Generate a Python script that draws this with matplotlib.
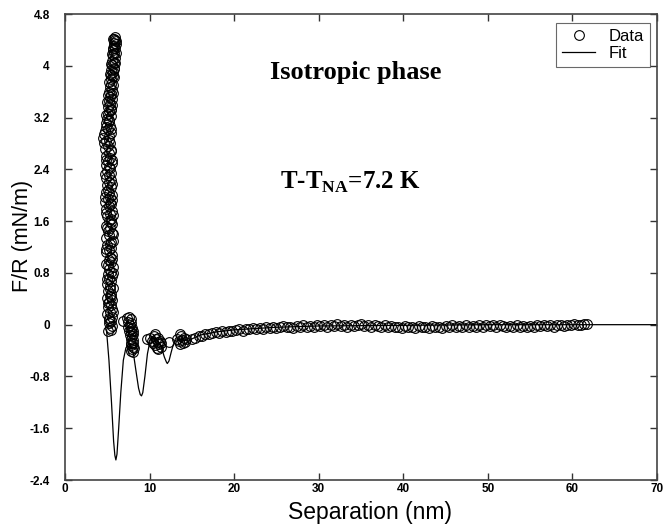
import numpy as np
import matplotlib
matplotlib.use('Agg')
import matplotlib.pyplot as plt

plt.rcParams['font.family'] = ['Liberation Sans', 'DejaVu Sans']
plt.rcParams['mathtext.fontset'] = 'custom'
plt.rcParams['mathtext.rm'] = 'Liberation Serif:bold'
plt.rcParams['mathtext.bf'] = 'Liberation Serif:bold'

#############################
######  Data (read off) #####
#############################

# steep repulsive wall, 4.5 - 6.2 nm
wall_x = [5.05, 5.30, 5.55, 5.15, 5.45, 5.20, 5.60, 5.00, 5.35, 5.55, 5.10, 5.40, 5.25, 5.60, 4.98,
          5.30, 5.50, 5.10, 5.65, 5.35, 4.95, 5.45, 5.20, 5.60, 5.05, 5.40, 5.25, 5.70, 4.90, 5.50,
          5.15, 5.35, 5.60, 4.85, 5.25, 5.50,
          5.00, 5.40, 5.65, 4.90, 5.20, 5.55, 5.05, 5.35, 4.80, 5.60, 5.15, 5.45, 4.95, 5.30, 5.55,
          4.85, 5.20, 5.45, 4.75, 5.05, 5.35, 5.55,
          4.80, 5.10, 5.40, 4.95, 5.25, 5.50, 4.85, 5.15, 5.45, 5.00, 5.30, 4.80, 5.55, 5.10, 5.35,
          4.90, 5.20, 5.50, 4.75, 5.05, 5.35,
          4.55, 4.90, 5.25, 5.50, 4.75, 5.05, 5.35, 4.85, 5.15, 4.95, 5.40, 5.10, 5.25, 5.50, 5.05,
          5.35, 5.20, 5.60, 5.30, 5.45, 5.15,
          5.55, 5.35, 5.70, 5.25, 5.50, 5.80, 5.40, 5.65, 5.50, 5.85, 5.60, 5.75, 5.55, 5.90, 5.70,
          5.80, 5.65, 5.95, 5.75, 5.85, 6.00, 5.80, 5.95,
          5.45, 5.25, 5.65, 5.05, 5.50, 5.30, 4.95, 5.70, 5.10, 5.55, 4.85, 5.35, 5.70, 4.95, 5.40,
          5.70, 4.80, 5.30, 5.60, 4.70, 5.25, 5.60, 4.70, 5.20, 5.60, 4.85, 5.40, 4.65, 5.15, 4.60,
          5.45, 4.90, 5.25, 4.80, 5.40, 5.00, 5.55, 5.10, 5.65, 5.40, 5.65, 5.30, 5.75, 5.45, 5.90,
          5.60, 6.00, 5.70, 6.05, 5.90, 5.70]
wall_y = [-0.10, -0.05, -0.02, 0.02, 0.05, 0.10, 0.12, 0.16, 0.19, 0.24, 0.27, 0.31, 0.35, 0.38, 0.41,
          0.45, 0.48, 0.52, 0.56, 0.60, 0.63, 0.67, 0.71, 0.75, 0.78, 0.82, 0.86, 0.89, 0.93, 0.97,
          1.00, 1.04, 1.08, 1.12, 1.15, 1.19,
          1.23, 1.27, 1.30, 1.34, 1.38, 1.42, 1.45, 1.49, 1.53, 1.56, 1.60, 1.64, 1.68, 1.71, 1.75,
          1.79, 1.83, 1.86, 1.90, 1.94, 1.97, 2.01,
          2.05, 2.08, 2.12, 2.16, 2.20, 2.23, 2.27, 2.31, 2.35, 2.38, 2.42, 2.46, 2.50, 2.53, 2.57,
          2.61, 2.65, 2.68, 2.72, 2.76, 2.80,
          2.88, 2.84, 2.92, 2.96, 3.00, 3.03, 3.07, 3.11, 3.14, 3.18, 3.22, 3.26, 3.30, 3.34, 3.37,
          3.41, 3.45, 3.48, 3.52, 3.56, 3.60,
          3.63, 3.67, 3.71, 3.75, 3.79, 3.82, 3.86, 3.90, 3.94, 3.97, 4.01, 4.05, 4.08, 4.12, 4.16,
          4.20, 4.24, 4.27, 4.31, 4.35, 4.38, 4.41, 4.40,
          -0.08, 0.07, 0.20, 0.33, 0.43, 0.55, 0.70, 0.80, 0.92, 1.02, 1.17, 1.25, 1.40, 1.50, 1.58,
          1.70, 1.72, 1.88, 1.92, 1.98, 2.03, 2.18, 2.33, 2.44, 2.55, 2.55, 2.70, 2.80, 2.86, 2.95,
          3.02, 3.05, 3.16, 3.24, 3.32, 3.44, 3.40, 3.55, 3.58, 3.72, 3.84, 3.88, 3.95, 4.02, 4.05,
          4.18, 4.20, 4.28, 4.33, 4.44, 4.42]

# oscillation clusters 6.8 - 14.4 nm
osc_x = [6.85, 7.35, 7.55, 7.75, 7.45, 7.65, 7.85, 7.50, 7.75, 7.95, 7.60, 7.85, 8.05, 7.70, 7.95,
         8.10, 7.75, 8.00, 7.85, 8.10, 7.80, 8.00, 7.90, 8.15, 7.75, 8.05,
         9.75, 10.05, 10.25, 10.55, 10.70, 10.45, 10.80, 10.95, 10.65, 11.00, 11.10, 10.85, 11.20,
         11.30, 11.05, 11.40,
         12.30,
         13.30, 13.55, 13.75, 13.50, 13.85, 14.05, 13.65, 13.95, 14.20, 14.35]
osc_y = [0.06, 0.10, 0.12, 0.08, 0.04, 0.00, 0.02, -0.04, -0.06, -0.05, -0.10, -0.12, -0.10, -0.16,
         -0.18, -0.15, -0.22, -0.24, -0.28, -0.28, -0.32, -0.34, -0.38, -0.36, -0.40, -0.42,
         -0.22, -0.20, -0.25, -0.18, -0.15, -0.28, -0.22, -0.26, -0.32, -0.20, -0.30, -0.36, -0.25,
         -0.34, -0.38, -0.28,
         -0.27,
         -0.22, -0.15, -0.18, -0.25, -0.24, -0.20, -0.30, -0.29, -0.26, -0.22]

# long range tail 15 - 61.7 nm
tail_x = [15.0, 15.4, 15.8, 16.2, 16.6, 17.0, 17.4, 17.8, 18.2, 18.6, 19.0, 19.4, 19.8, 20.2, 20.6,
          21.0, 21.4, 21.8, 22.2, 22.6, 23.0, 23.4, 23.8, 24.2, 24.6, 25.0, 25.4, 25.8, 26.2, 26.6,
          27.0, 27.4, 27.8, 28.2, 28.6, 29.0, 29.4, 29.8, 30.2, 30.6, 31.0, 31.4, 31.8, 32.2, 32.6,
          33.0, 33.4, 33.8, 34.2, 34.6, 35.0, 35.4, 35.8, 36.2, 36.6, 37.0, 37.4, 37.8, 38.2, 38.6,
          39.0, 39.4, 39.8, 40.2, 40.6, 41.0, 41.4, 41.8, 42.2, 42.6, 43.0, 43.4, 43.8, 44.2, 44.6,
          45.0, 45.4, 45.8, 46.2, 46.6, 47.0, 47.4, 47.8, 48.2, 48.6, 49.0, 49.4, 49.8, 50.2, 50.6,
          51.0, 51.4, 51.8, 52.2, 52.6, 53.0, 53.4, 53.8, 54.2, 54.6, 55.0, 55.4, 55.8, 56.2, 56.6,
          57.0, 57.4, 57.8, 58.2, 58.6, 59.0, 59.4, 59.8, 60.2, 60.6, 61.0, 61.4, 61.7]
tail_y = [-0.22, -0.20, -0.18, -0.17, -0.15, -0.15, -0.13, -0.12, -0.13, -0.10, -0.11, -0.09, -0.10,
          -0.08, -0.07, -0.09, -0.06, -0.07, -0.05, -0.07, -0.05, -0.06, -0.04, -0.05, -0.03, -0.05,
          -0.04, -0.02, -0.04, -0.03, -0.05, -0.02, -0.03, -0.01, -0.03, -0.02, -0.04, -0.01, -0.02,
          0.00, -0.03, -0.01, -0.02, 0.01, -0.02, -0.01, -0.03, 0.00, -0.02, -0.01, 0.01, -0.02,
          -0.01, -0.03, 0.00, -0.02, -0.04, -0.01, -0.03, -0.02, -0.04, -0.03, -0.05, -0.02, -0.04,
          -0.03, -0.05, -0.02, -0.04, -0.03, -0.05, -0.02, -0.04, -0.03, -0.05, -0.02, -0.03, -0.01,
          -0.03, -0.02, -0.04, -0.01, -0.03, -0.02, -0.04, -0.01, -0.03, 0.00, -0.02, -0.01, -0.03,
          -0.01, -0.02, -0.04, -0.02, -0.03, -0.01, -0.03, -0.02, -0.04, -0.02, -0.03, -0.01, -0.02,
          0.00, -0.02, -0.01, -0.03, -0.01, 0.00, -0.02, 0.00, -0.01, 0.01, -0.01, 0.00, 0.01, 0.01]

# fit curve
fit_x = [4.92, 5.2, 5.5, 5.75, 5.9, 6.02, 6.15, 6.35, 6.6, 6.9, 7.2, 7.5, 7.8, 8.1, 8.4, 8.7, 8.9,
         9.05, 9.2, 9.45, 9.75, 10.1, 10.5, 11.0, 11.4, 11.75, 12.0, 12.1, 12.3, 12.55, 12.8, 13.1,
         13.6, 14.2, 14.6, 15.0, 16.0, 18.0, 20.0, 25.0, 30.0, 40.0, 50.0, 70.0]
fit_y = [-0.10, -0.55, -1.20, -1.80, -2.02, -2.09, -2.00, -1.60, -1.05, -0.55, -0.36, -0.30, -0.33,
         -0.45, -0.72, -0.98, -1.08, -1.10, -1.05, -0.80, -0.45, -0.22, -0.20, -0.25, -0.35, -0.50,
         -0.58, -0.60, -0.56, -0.43, -0.31, -0.24, -0.22, -0.24, -0.26, -0.22, -0.16, -0.11, -0.08,
         -0.04, -0.02, -0.01, 0.00, 0.00]

x_ticks = [0, 10, 20, 30, 40, 50, 60, 70]
y_ticks = [-2.4, -1.6, -0.8, 0, 0.8, 1.6, 2.4, 3.2, 4, 4.8]
y_ticklabels = ['-2.4', '-1.6', '-0.8', '0', '0.8', '1.6', '2.4', '3.2', '4', '4.8']

#############################
########## Plot #############
#############################

data_x = wall_x + osc_x + tail_x
data_y = wall_y + osc_y + tail_y

fig = plt.figure(figsize=(6.65, 5.25), dpi=100)
ax = fig.add_axes([0.0977, 0.0857, 0.8903, 0.8876])

ax.plot(fit_x, fit_y, color='black', lw=0.9, label='Fit', zorder=2)
ax.plot(data_x, data_y, linestyle='None', marker='o', markersize=7, markerfacecolor='none',
        markeredgecolor='black', markeredgewidth=0.8, label='Data', zorder=3)

ax.set_xlim(0, 70)
ax.set_ylim(-2.4, 4.8)
ax.set_xticks(x_ticks)
ax.set_yticks(y_ticks)
ax.set_yticklabels(y_ticklabels)
ax.tick_params(direction='in', length=5, width=1, top=True, right=True, colors='#333333',
               labelcolor='black', labelsize=8.5)
ax.tick_params(axis='y', pad=11)
ax.tick_params(axis='x', pad=2)
for lab in ax.get_xticklabels() + ax.get_yticklabels():
    lab.set_fontweight('bold')
for s in ax.spines.values():
    s.set_color('#444444')
    s.set_linewidth(1.2)

ax.set_xlabel('Separation (nm)', fontsize=16.5, va='center')
ax.xaxis.set_label_coords(0.515, -0.069)
ax.set_ylabel('F/R (mN/m)', fontsize=15.5, va='center')
ax.yaxis.set_label_coords(-0.071, 0.524)

ax.text(34.4, 3.9, 'Isotropic phase', family='Liberation Serif', fontweight='bold',
        fontsize=19, ha='center', va='center')
ax.text(33.8, 2.2, r'T-T$_{\mathbf{NA}}$=7.2 K', family='Liberation Serif', fontweight='bold',
        fontsize=18, ha='center', va='center')

handles, labels = ax.get_legend_handles_labels()
leg = ax.legend(handles[::-1], labels[::-1], loc='upper right', bbox_to_anchor=(0.988, 0.981),
                borderaxespad=0, fontsize=12, fancybox=False, edgecolor='#444444',
                handlelength=2.0, handletextpad=0.8, borderpad=0.35, labelspacing=0.15)
leg.get_frame().set_linewidth(0.8)

fig.savefig('out.png', dpi=100)
